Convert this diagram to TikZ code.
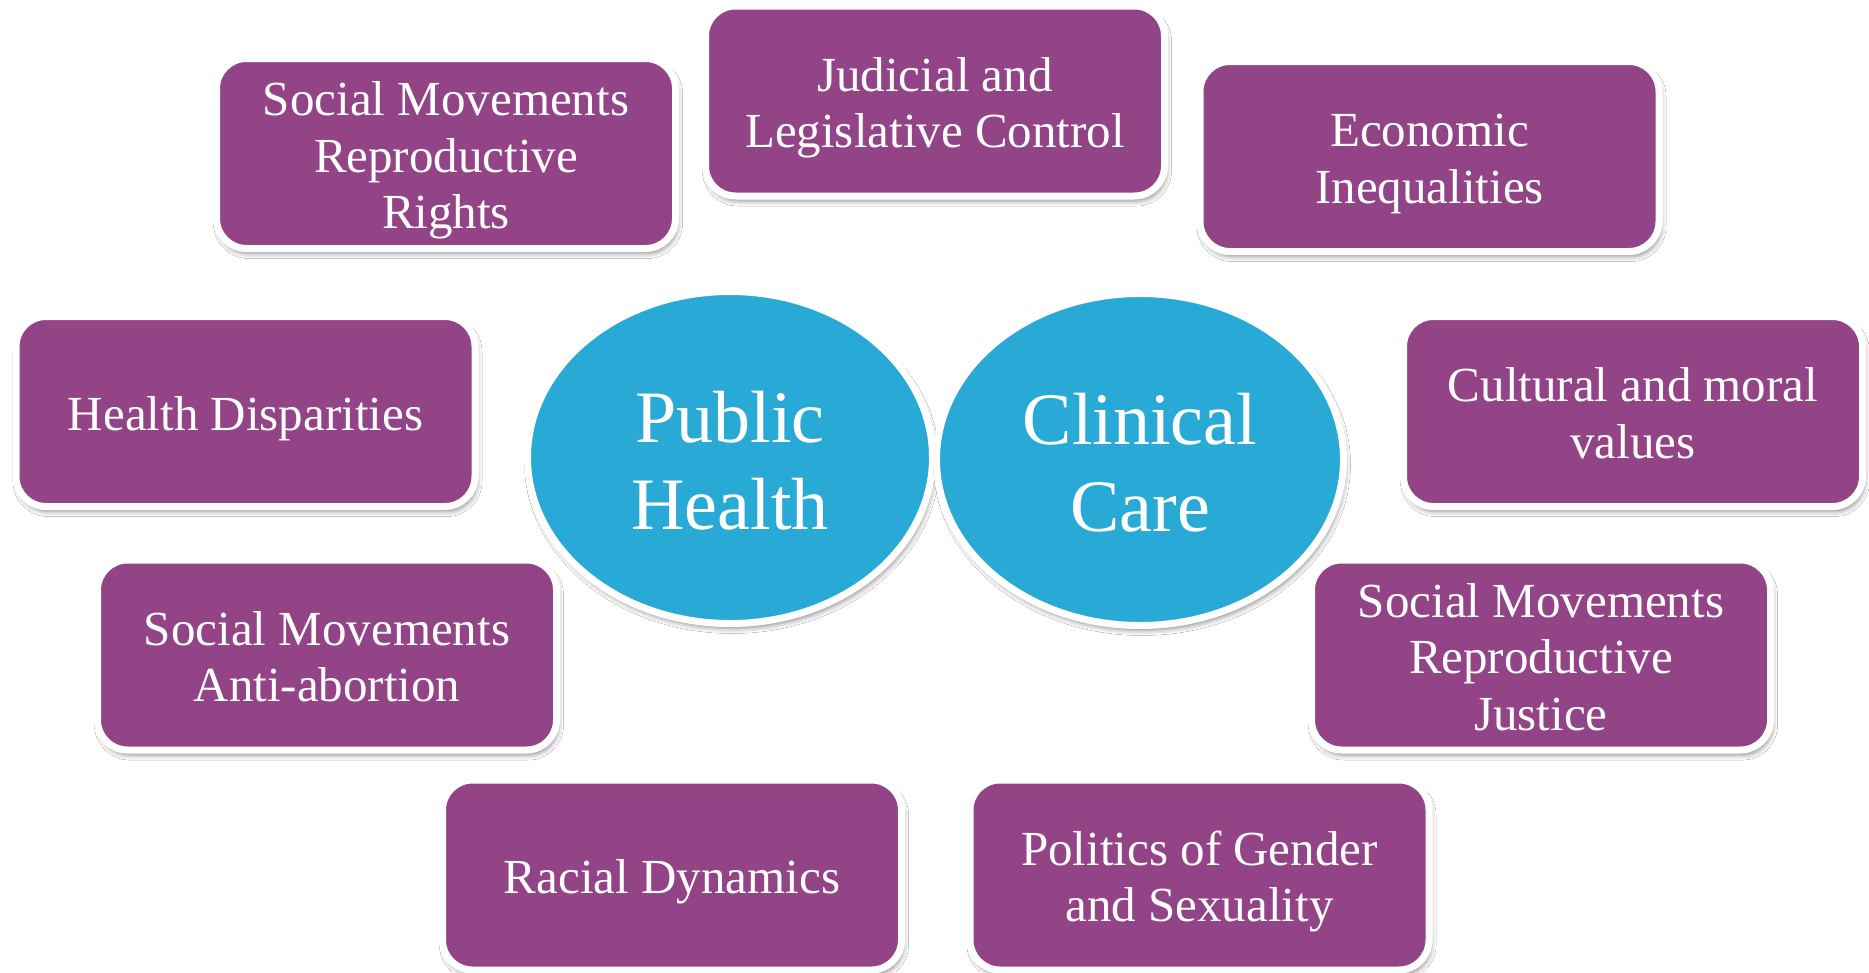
\documentclass[tikz,border=0pt]{standalone}
\usepackage{fontspec}
\setmainfont{Liberation Serif}
\usetikzlibrary{shapes.geometric,shadows.blur}
\definecolor{boxpurple}{HTML}{924487}
\definecolor{ovalblue}{HTML}{29A9D5}
\newcommand\tstrutx{\rule{0pt}{48pt}}
\newcommand\bstrutx{\rule[-11pt]{0pt}{11pt}}
\newcommand\ostrutx{\rule{0pt}{58pt}}
\begin{document}
\begin{tikzpicture}[x=1pt,y=-1pt,
  softshadow/.style={blur shadow={shadow xshift=2pt, shadow yshift=-5pt, shadow blur radius=5pt, shadow opacity=45}},
  factor/.style={rectangle, rounded corners=30pt, fill=boxpurple, draw=white, line width=7pt,
    minimum width=459pt, minimum height=190pt, inner sep=0pt, text=white, align=center,
    font=\fontsize{49}{56.5}\selectfont, softshadow},
  core/.style={ellipse, fill=ovalblue, draw=white, line width=7pt,
    minimum width=405pt, minimum height=332pt, inner sep=0pt, text=white, align=center,
    font=\fontsize{74}{87}\selectfont, softshadow}]
\useasboundingbox[fill=white] (0,0) rectangle (1869,972);

\node[factor] (rights)   at (446,153.5)  {\tstrutx Social Movements\\Reproductive\\Rights\bstrutx};
\node[factor] (judicial) at (935,101)    {\tstrutx Judicial and\\Legislative Control\bstrutx};
\node[factor] (economic) at (1429.5,156.5) {\tstrutx Economic\\Inequalities\bstrutx};
\node[factor] (health)   at (245.5,411.5) {\tstrutx Health Disparities\bstrutx};
\node[factor] (cultural) at (1633,411.5) {\tstrutx Cultural and moral\\values\bstrutx};
\node[factor] (anti)     at (327,655)    {\tstrutx Social Movements\\Anti-abortion\bstrutx};
\node[factor] (justice)  at (1541,655)   {\tstrutx Social Movements\\Reproductive\\Justice\bstrutx};
\node[factor] (racial)   at (672,875)    {\tstrutx Racial Dynamics\bstrutx};
\node[factor] (politics) at (1199.5,875) {\tstrutx Politics of Gender\\and Sexuality\bstrutx};

\node[core] (public)   at (730,457.5)  {\ostrutx Public\\Health};
\node[core, minimum width=407pt] (clinical) at (1140,459.5) {\ostrutx Clinical\\Care};
\end{tikzpicture}
\end{document}
